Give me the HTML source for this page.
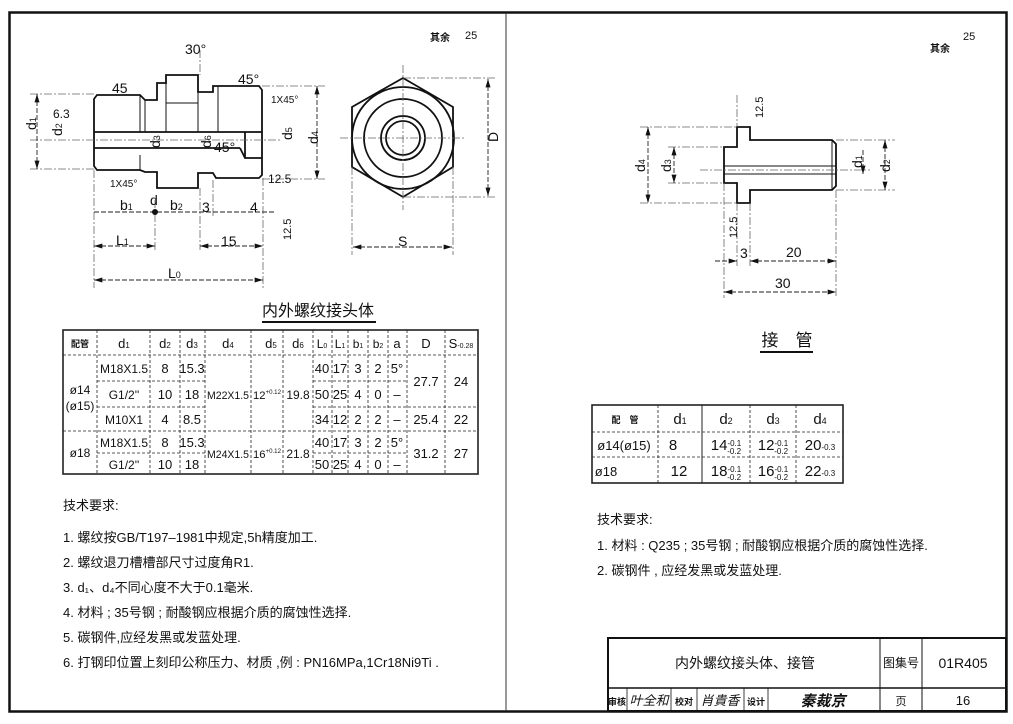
<!DOCTYPE html>
<html><head><meta charset="utf-8"><style>
html,body{margin:0;padding:0;background:#fff;}
svg{display:block;}
text{font-family:"Liberation Sans Narrow","Liberation Sans","Noto Sans CJK SC",sans-serif;fill:#111;}
.c{font-family:"Liberation Sans","Noto Sans CJK SC",sans-serif;}
</style></head><body>
<svg width="1013" height="724" viewBox="0 0 1013 724" xmlns="http://www.w3.org/2000/svg">
<defs>
<marker id="a" viewBox="0 0 10 6" refX="10" refY="3" markerWidth="10" markerHeight="5" orient="auto-start-reverse" markerUnits="userSpaceOnUse"><path d="M0,0 L10,3 L0,6z" fill="#111"/></marker>
</defs>
<rect width="1013" height="724" fill="#fff"/>
<rect x="9.5" y="12.5" width="997" height="699" fill="none" stroke="#111" stroke-width="2.5"/>
<line x1="506" y1="13" x2="506" y2="711" stroke="#333" stroke-width="1"/>
<g stroke="#111" fill="none" stroke-width="1.8">
<path d="M94,99 L97,95 L140,95 L145,100 L157,100 L157,83 L166,83 L166,75 L198,75 L198,92 L213,92 L213,86 L259,86 L262,90 L262,175 L259,178 L216,178 L213,173 L198,173 L198,188 L157,188 L157,172 L145,172 L140,170 L97,170 L94,166 Z"/>
<line x1="94" y1="132" x2="262" y2="132"/>
<line x1="94" y1="148" x2="240" y2="148"/>
<path d="M240,148 L245,158 L262,158"/>
<line x1="245" y1="132" x2="245" y2="158"/>
<line x1="140" y1="95" x2="140" y2="132" stroke-width="1"/>
<line x1="145" y1="100" x2="145" y2="132" stroke-width="1"/>
<line x1="166" y1="103" x2="198" y2="103" stroke-width="1"/>
<line x1="166" y1="83" x2="166" y2="132" stroke-width="1"/>
<line x1="198" y1="92" x2="198" y2="132" stroke-width="1"/>
<line x1="218" y1="86" x2="218" y2="132" stroke-width="1"/>
<line x1="140" y1="155" x2="140" y2="170" stroke-width="1"/>
<path d="M403,78 L453,107 L453,167 L403,197 L352,167 L352,107 Z"/>
<circle cx="403" cy="138" r="51"/>
<circle cx="403" cy="138" r="39"/>
<circle cx="403" cy="138" r="22"/>
<circle cx="403" cy="138" r="17"/>
<path d="M724,147 L737,147 L737,127 L750,127 L750,140 L832,140 L836,144 L836,186 L832,190 L750,190 L750,203 L737,203 L737,183 L724,183 Z"/>
<line x1="724" y1="166" x2="836" y2="166" stroke-width="1"/>
<line x1="724" y1="174" x2="836" y2="174" stroke-width="1"/>
<line x1="832" y1="140" x2="832" y2="190" stroke-width="1"/>
</g>
<g stroke="#666" stroke-width="0.8" stroke-dasharray="8,2,2,2" fill="none">
<line x1="30" y1="140" x2="280" y2="140"/>
<line x1="340" y1="138" x2="466" y2="138"/>
<line x1="403" y1="65" x2="403" y2="210"/>
<line x1="200" y1="50" x2="200" y2="75"/>
<line x1="30" y1="94" x2="94" y2="94"/><line x1="30" y1="169" x2="94" y2="169"/>
<line x1="262" y1="86" x2="325" y2="86"/><line x1="262" y1="179" x2="325" y2="179"/>
<line x1="403" y1="78" x2="495" y2="78"/><line x1="403" y1="197" x2="495" y2="197"/>
<line x1="352" y1="167" x2="352" y2="255"/><line x1="453" y1="167" x2="453" y2="255"/>
<line x1="94" y1="170" x2="94" y2="288"/><line x1="263" y1="178" x2="263" y2="288"/>
<line x1="155" y1="200" x2="155" y2="250"/><line x1="200" y1="188" x2="200" y2="250"/>
<line x1="213" y1="180" x2="213" y2="218"/>
<line x1="700" y1="170" x2="870" y2="170"/>
<line x1="640" y1="127" x2="737" y2="127"/><line x1="640" y1="203" x2="737" y2="203"/>
<line x1="668" y1="147" x2="724" y2="147"/><line x1="668" y1="183" x2="724" y2="183"/>
<line x1="836" y1="140" x2="895" y2="140"/><line x1="836" y1="190" x2="895" y2="190"/>
<line x1="724" y1="183" x2="724" y2="298"/><line x1="737" y1="203" x2="737" y2="266"/>
<line x1="750" y1="203" x2="750" y2="266"/><line x1="836" y1="190" x2="836" y2="298"/>
<line x1="737" y1="95" x2="737" y2="127"/>
</g>
<g stroke="#222" stroke-width="0.9" fill="none" stroke-dasharray="5,2">
<line x1="37" y1="94" x2="37" y2="169" marker-start="url(#a)" marker-end="url(#a)"/>
<line x1="317" y1="86" x2="317" y2="179" marker-start="url(#a)" marker-end="url(#a)"/>
<line x1="488" y1="79" x2="488" y2="196" marker-start="url(#a)" marker-end="url(#a)"/>
<line x1="353" y1="247" x2="452" y2="247" marker-start="url(#a)" marker-end="url(#a)"/>
<line x1="94" y1="246" x2="155" y2="246" marker-start="url(#a)" marker-end="url(#a)"/>
<line x1="200" y1="246" x2="263" y2="246" marker-start="url(#a)" marker-end="url(#a)"/>
<line x1="94" y1="280" x2="263" y2="280" marker-start="url(#a)" marker-end="url(#a)"/>
<line x1="94" y1="212" x2="275" y2="212"/>
<line x1="648" y1="127" x2="648" y2="203" marker-start="url(#a)" marker-end="url(#a)"/>
<line x1="674" y1="147" x2="674" y2="183" marker-start="url(#a)" marker-end="url(#a)"/>
<line x1="885" y1="140" x2="885" y2="190" marker-start="url(#a)" marker-end="url(#a)"/>
<line x1="863" y1="150" x2="863" y2="174" marker-end="url(#a)"/>
<line x1="715" y1="261" x2="737" y2="261" marker-end="url(#a)"/>
<line x1="750" y1="261" x2="836" y2="261" marker-start="url(#a)" marker-end="url(#a)"/>
<line x1="724" y1="292" x2="836" y2="292" marker-start="url(#a)" marker-end="url(#a)"/>
</g>
<circle cx="155" cy="212" r="3" fill="#111"/>
<g font-size="14">
<text x="185" y="54">30°</text>
<text x="112" y="93">45</text><text x="238" y="84">45°</text><text x="214" y="152">45°</text>
<text x="53" y="118" font-size="12">6.3</text>
<text x="271" y="103" font-size="10">1X45°</text><text x="110" y="187" font-size="10">1X45°</text>
<text x="268" y="183" font-size="12">12.5</text>
<text x="150" y="205">d</text>
<text x="120" y="210">b<tspan font-size="9">1</tspan></text><text x="170" y="210">b<tspan font-size="9">2</tspan></text>
<text x="202" y="212">3</text><text x="250" y="212">4</text>
<text x="116" y="245">L<tspan font-size="9">1</tspan></text><text x="221" y="246">15</text>
<text x="168" y="278">L<tspan font-size="9">0</tspan></text>
<text x="398" y="246">S</text>
<text transform="translate(498,142) rotate(-90)">D</text>
<text transform="translate(36,130) rotate(-90)">d<tspan font-size="9">1</tspan></text>
<text transform="translate(62,136) rotate(-90)">d<tspan font-size="9">2</tspan></text>
<text transform="translate(160,148) rotate(-90)">d<tspan font-size="9">3</tspan></text>
<text transform="translate(211,148) rotate(-90)">d<tspan font-size="9">6</tspan></text>
<text transform="translate(292,140) rotate(-90)">d<tspan font-size="9">5</tspan></text>
<text transform="translate(318,144) rotate(-90)">d<tspan font-size="9">4</tspan></text>
<text transform="translate(291,240) rotate(-90)" font-size="11">12.5</text>
<text transform="translate(645,172) rotate(-90)">d<tspan font-size="9">4</tspan></text>
<text transform="translate(671,172) rotate(-90)">d<tspan font-size="9">3</tspan></text>
<text transform="translate(862,168) rotate(-90)">d<tspan font-size="9">1</tspan></text>
<text transform="translate(890,172) rotate(-90)">d<tspan font-size="9">2</tspan></text>
<text transform="translate(763,118) rotate(-90)" font-size="11">12.5</text>
<text transform="translate(737,238) rotate(-90)" font-size="11">12.5</text>
<text x="740" y="258">3</text><text x="786" y="257">20</text><text x="775" y="288">30</text>
<text x="430" y="41" class="c" font-size="10" font-weight="bold">其余</text><text x="465" y="39" font-size="11">25</text>
<text x="930" y="52" class="c" font-size="10" font-weight="bold">其余</text><text x="963" y="40" font-size="11">25</text>
</g>
<text x="318" y="316" class="c" font-size="16" text-anchor="middle">内外螺纹接头体</text>
<line x1="262" y1="322" x2="376" y2="322" stroke="#111" stroke-width="2"/>
<text x="787" y="346" class="c" font-size="17" text-anchor="middle">接　管</text>
<line x1="760" y1="352" x2="813" y2="352" stroke="#111" stroke-width="2"/>
<g stroke="#222" fill="none">
<rect x="63" y="330" width="415" height="144" stroke-width="1.6"/>
<g stroke-width="0.8" stroke-dasharray="3,2">
<line x1="97" y1="330" x2="97" y2="474"/><line x1="150" y1="330" x2="150" y2="474"/>
<line x1="180" y1="330" x2="180" y2="474"/><line x1="205" y1="330" x2="205" y2="474"/>
<line x1="251" y1="330" x2="251" y2="474"/><line x1="283" y1="330" x2="283" y2="474"/>
<line x1="313" y1="330" x2="313" y2="474"/><line x1="332" y1="330" x2="332" y2="474"/>
<line x1="348" y1="330" x2="348" y2="474"/><line x1="368" y1="330" x2="368" y2="474"/>
<line x1="388" y1="330" x2="388" y2="474"/><line x1="407" y1="330" x2="407" y2="474"/>
<line x1="445" y1="330" x2="445" y2="474"/>
<line x1="63" y1="355" x2="478" y2="355"/>
<line x1="97" y1="381" x2="205" y2="381"/><line x1="313" y1="381" x2="407" y2="381"/>
<line x1="97" y1="407" x2="205" y2="407"/><line x1="313" y1="407" x2="478" y2="407"/>
<line x1="63" y1="431" x2="478" y2="431"/>
<line x1="97" y1="453" x2="205" y2="453"/><line x1="313" y1="453" x2="407" y2="453"/>
</g></g>
<g font-size="13" text-anchor="middle">
<text x="80" y="347" class="c" font-size="9" font-weight="bold">配管</text>
<text x="124" y="348">d<tspan font-size="8">1</tspan></text><text x="165" y="348">d<tspan font-size="8">2</tspan></text><text x="192" y="348">d<tspan font-size="8">3</tspan></text><text x="228" y="348">d<tspan font-size="8">4</tspan></text><text x="271" y="348">d<tspan font-size="8">5</tspan></text><text x="298" y="348">d<tspan font-size="8">6</tspan></text><text x="322" y="348" font-size="12">L<tspan font-size="7">0</tspan></text><text x="340" y="348" font-size="12">L<tspan font-size="7">1</tspan></text><text x="358" y="348" font-size="12">b<tspan font-size="7">1</tspan></text><text x="378" y="348" font-size="12">b<tspan font-size="7">2</tspan></text><text x="397" y="348">a</text><text x="426" y="348">D</text><text x="461" y="348">S<tspan font-size="7">-0.28</tspan></text>
<text x="80" y="394" font-size="12">ø14</text><text x="80" y="410" font-size="12">(ø15)</text>
<text x="124" y="373" font-size="12">M18X1.5</text><text x="124" y="399" font-size="12">G1/2''</text><text x="124" y="424" font-size="12">M10X1</text>
<text x="165" y="373">8</text><text x="165" y="399">10</text><text x="165" y="424">4</text>
<text x="192" y="373">15.3</text><text x="192" y="399">18</text><text x="192" y="424">8.5</text>
<text x="228" y="399" font-size="11" textLength="42" lengthAdjust="spacingAndGlyphs">M22X1.5</text><text x="267" y="399" font-size="11" textLength="28" lengthAdjust="spacingAndGlyphs">12<tspan font-size="6" dy="-5">+0.12</tspan></text><text x="298" y="399" font-size="12">19.8</text>
<text x="322" y="373">40</text><text x="322" y="399">50</text><text x="322" y="424">34</text>
<text x="340" y="373">17</text><text x="340" y="399">25</text><text x="340" y="424">12</text>
<text x="358" y="373">3</text><text x="358" y="399">4</text><text x="358" y="424">2</text>
<text x="378" y="373">2</text><text x="378" y="399">0</text><text x="378" y="424">2</text>
<text x="397" y="373">5°</text><text x="397" y="399">–</text><text x="397" y="424">–</text>
<text x="426" y="386">27.7</text><text x="461" y="386">24</text><text x="426" y="424">25.4</text><text x="461" y="424">22</text>
<text x="80" y="457" font-size="12">ø18</text>
<text x="124" y="447" font-size="12">M18X1.5</text><text x="124" y="469" font-size="12">G1/2''</text>
<text x="165" y="447">8</text><text x="165" y="469">10</text><text x="192" y="447">15.3</text><text x="192" y="469">18</text>
<text x="228" y="458" font-size="11" textLength="42" lengthAdjust="spacingAndGlyphs">M24X1.5</text><text x="267" y="458" font-size="11" textLength="28" lengthAdjust="spacingAndGlyphs">16<tspan font-size="6" dy="-5">+0.12</tspan></text><text x="298" y="458" font-size="12">21.8</text>
<text x="322" y="447">40</text><text x="322" y="469">50</text><text x="340" y="447">17</text><text x="340" y="469">25</text>
<text x="358" y="447">3</text><text x="358" y="469">4</text><text x="378" y="447">2</text><text x="378" y="469">0</text>
<text x="397" y="447">5°</text><text x="397" y="469">–</text>
<text x="426" y="458">31.2</text><text x="461" y="458">27</text>
</g>
<g stroke="#222" fill="none">
<rect x="592" y="405" width="251" height="78" stroke-width="1.6"/>
<line x1="702" y1="405" x2="702" y2="483" stroke-width="1"/>
<g stroke-width="0.8" stroke-dasharray="3,2">
<line x1="658" y1="405" x2="658" y2="483"/><line x1="750" y1="405" x2="750" y2="483"/><line x1="796" y1="405" x2="796" y2="483"/>
<line x1="592" y1="432" x2="843" y2="432"/><line x1="592" y1="457" x2="843" y2="457"/>
</g></g>
<g font-size="15" text-anchor="middle">
<text x="625" y="423" class="c" font-size="9" font-weight="bold">配　管</text>
<text x="680" y="424">d<tspan font-size="9">1</tspan></text><text x="726" y="424">d<tspan font-size="9">2</tspan></text><text x="773" y="424">d<tspan font-size="9">3</tspan></text><text x="820" y="424">d<tspan font-size="9">4</tspan></text>
<text x="624" y="450" font-size="13">ø14(ø15)</text><text x="673" y="450">8</text>
<text x="726" y="450">14<tspan font-size="8" dy="-4">-0.1</tspan><tspan font-size="8" dx="-14" dy="8">-0.2</tspan></text>
<text x="773" y="450">12<tspan font-size="8" dy="-4">-0.1</tspan><tspan font-size="8" dx="-14" dy="8">-0.2</tspan></text>
<text x="820" y="450">20<tspan font-size="8">-0.3</tspan></text>
<text x="606" y="476" font-size="13">ø18</text><text x="679" y="476">12</text>
<text x="726" y="476">18<tspan font-size="8" dy="-4">-0.1</tspan><tspan font-size="8" dx="-14" dy="8">-0.2</tspan></text>
<text x="773" y="476">16<tspan font-size="8" dy="-4">-0.1</tspan><tspan font-size="8" dx="-14" dy="8">-0.2</tspan></text>
<text x="820" y="476">22<tspan font-size="8">-0.3</tspan></text>
</g>
<g class="c" font-size="13">
<text x="63" y="510">技术要求:</text>
<text x="63" y="542">1.  螺纹按GB/T197–1981中规定,5h精度加工.</text>
<text x="63" y="567">2.  螺纹退刀槽槽部尺寸过度角R1.</text>
<text x="63" y="592">3.  d₁、d₄不同心度不大于0.1毫米.</text>
<text x="63" y="617">4.  材料 ; 35号钢 ; 耐酸钢应根据介质的腐蚀性选择.</text>
<text x="63" y="642">5.  碳钢件,应经发黑或发蓝处理.</text>
<text x="63" y="667">6.  打钢印位置上刻印公称压力、材质 ,例 : PN16MPa,1Cr18Ni9Ti  .</text>
<text x="597" y="524">技术要求:</text>
<text x="597" y="550">1.    材料 : Q235 ; 35号钢 ; 耐酸钢应根据介质的腐蚀性选择.</text>
<text x="597" y="575">2.    碳钢件 , 应经发黑或发蓝处理.</text>
</g>
<g stroke="#111" fill="none">
<rect x="608" y="638" width="398" height="73" stroke-width="2"/>
<line x1="608" y1="688" x2="1006" y2="688" stroke-width="1.6"/>
<line x1="880" y1="638" x2="880" y2="711" stroke-width="1"/>
<line x1="922" y1="638" x2="922" y2="711" stroke-width="1"/>
<g stroke-width="0.8"><line x1="627" y1="688" x2="627" y2="711"/><line x1="671" y1="688" x2="671" y2="711"/><line x1="697" y1="688" x2="697" y2="711"/><line x1="744" y1="688" x2="744" y2="711"/><line x1="768" y1="688" x2="768" y2="711"/></g>
</g>
<g class="c" text-anchor="middle">
<text x="745" y="668" font-size="14">内外螺纹接头体、接管</text>
<text x="901" y="667" font-size="12">图集号</text>
<text x="963" y="668" font-size="14">01R405</text>
<text x="617" y="705" font-size="9" font-weight="bold">审核</text>
<text x="649" y="705" font-size="13" font-style="italic">叶全和</text>
<text x="684" y="705" font-size="9" font-weight="bold">校对</text>
<text x="720" y="705" font-size="13" font-style="italic">肖貴香</text>
<text x="756" y="705" font-size="9" font-weight="bold">设计</text>
<text x="823" y="706" font-size="15" font-style="italic" font-weight="bold">秦裁京</text>
<text x="901" y="705" font-size="11">页</text>
<text x="963" y="705" font-size="13">16</text>
</g>
</svg>
</body></html>
